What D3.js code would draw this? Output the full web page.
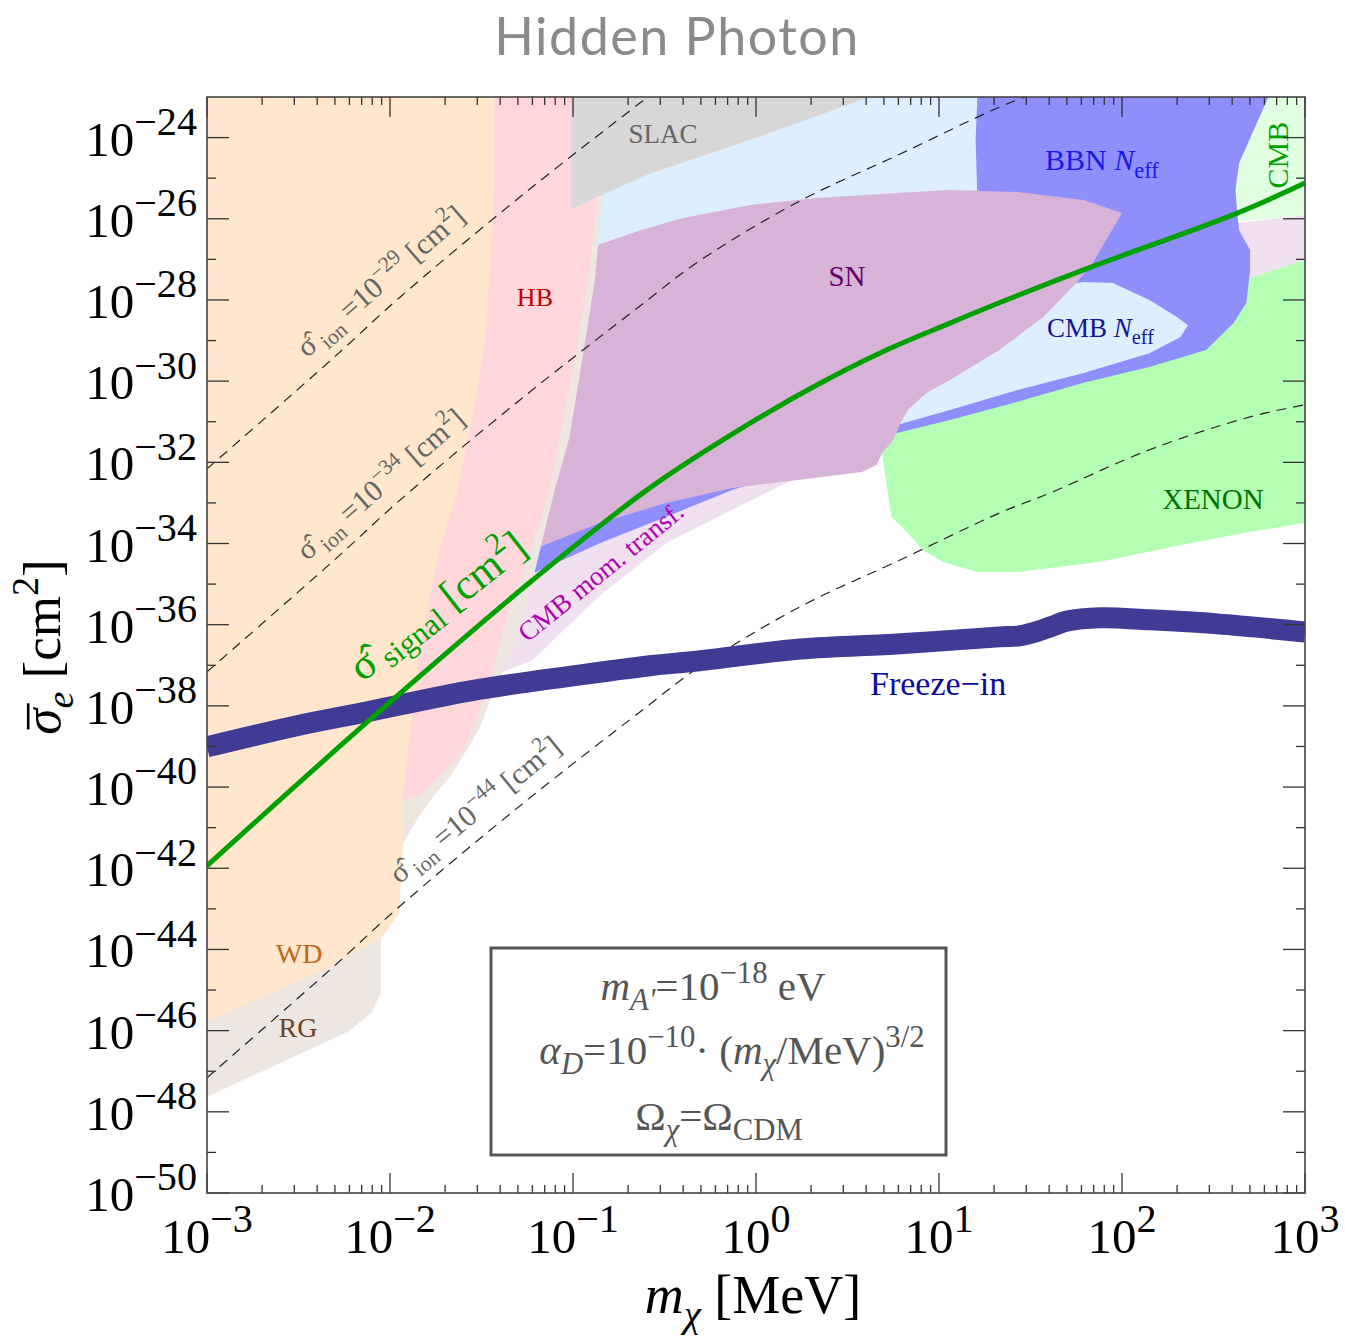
<!DOCTYPE html>
<html>
<head>
<meta charset="utf-8">
<script src="https://cdn.jsdelivr.net/npm/d3@7"></script>
<style>
  body { margin: 0; background: #fff; }
  svg { display: block; }
  text { font-family: "Liberation Serif", "DejaVu Serif", serif; }
</style>
</head>
<body>
<svg id="chart" width="1345" height="1340"></svg>
<script>
// ---------------------------------------------------------------
// Data: every boundary is a list of [log10(mχ / MeV), log10(σ̄e / cm²)]
// ---------------------------------------------------------------

// CMB N_eff (light blue) – broad background region
const cmbNeffBase = [[-0.86,-23],[1.5,-23],[1.5,-28.8],[0.9,-30.5],[-0.87,-27.0]];

// CMB N_eff – part visible inside the BBN band
const cmbNeffIsland = [[1.75,-27.58],[1.79,-27.56],[1.95,-27.58],[2.15,-28.00],[2.30,-28.42],
  [2.36,-28.62],[2.32,-28.91],[2.15,-29.31],[1.79,-29.80],[1.43,-30.22],[1.06,-30.71],
  [0.77,-31.08],[0.62,-31.25],[0.51,-30.96],[1.33,-28.74],[1.66,-27.75]];

// BBN N_eff (periwinkle)
const bbnNeff = [[1.21,-23],[2.80,-23],[2.72,-23.81],[2.64,-24.63],[2.62,-25.29],[2.63,-25.86],
  [2.64,-26.28],[2.70,-26.77],[2.70,-27.26],[2.68,-28.07],[2.61,-28.57],[2.46,-29.23],
  [2.15,-29.65],[1.79,-30.04],[1.43,-30.51],[1.06,-30.96],[0.77,-31.28],[0.58,-31.65],
  [0.24,-32.14],[-0.13,-32.68],[-0.49,-33.34],[-0.85,-33.99],[-1.21,-34.72],[-1.21,-34.16],
  [-1.07,-33.80],[-0.31,-30.46],[1.21,-25.54],[1.20,-24.06]];

// CMB (very light green, top right)
const cmbTop = [[2.55,-23],[3,-23],[3,-25.91],[2.55,-26.10]];

// CMB momentum transfer (lavender): high-mass patch and low-mass band
const cmbMomHigh = [[2.55,-26.10],[2.64,-26.10],[3,-25.91],[3,-27.01],[2.70,-27.46],[2.55,-27.50]];
const cmbMomLow = [[-1.22,-34.40],[-0.85,-33.59],[-0.13,-32.43],[0.24,-32.25],[0.20,-32.43],
  [-0.13,-33.17],[-0.49,-33.99],[-0.85,-35.27],[-1.22,-36.87],[-1.40,-37.19],[-1.56,-37.61],
  [-1.50,-35.39],[-1.29,-34.53]];

// XENON direct detection (light green)
const xenon = [[0.69,-31.87],[0.70,-32.11],[0.74,-33.34],[0.83,-33.74],[0.91,-34.16],
  [1.02,-34.45],[1.21,-34.70],[1.43,-34.70],[1.88,-34.45],[2.33,-34.03],[2.70,-33.71],
  [3,-33.49],[3,-27.01],[2.70,-27.46],[2.59,-28.0],[2.43,-29.1],[1.79,-29.97],
  [1.06,-30.83],[0.73,-31.33],[0.69,-31.57]];

// Supernova cooling (mauve)
const supernova = [[-0.87,-26.65],[-0.63,-26.28],[-0.40,-25.98],[-0.03,-25.66],[0.33,-25.49],
  [0.79,-25.36],[1.06,-25.29],[1.43,-25.34],[1.79,-25.54],[2.00,-25.86],[1.84,-27.09],
  [1.75,-27.58],[1.57,-28.42],[1.33,-29.23],[1.06,-29.97],[0.93,-30.29],[0.83,-30.71],
  [0.79,-31.03],[0.75,-31.45],[0.69,-31.77],[0.66,-32.06],[0.58,-32.24],[0.24,-32.43],
  [-0.13,-32.63],[-0.49,-33.00],[-0.85,-33.49],[-1.18,-34.08],[-1.07,-31.69],
  [-0.98,-30.22],[-0.92,-28.57]];

// Red giants (beige)
const redGiants = [[-3,-23],[-0.82,-23],[-0.84,-25.54],[-0.88,-27.51],[-0.95,-29.48],
  [-1.02,-31.40],[-1.10,-32.68],[-1.18,-34.16],[-1.26,-35.64],[-1.34,-36.75],[-1.45,-37.85],
  [-1.51,-38.54],[-1.58,-39.08],[-1.67,-39.73],[-1.77,-40.27],[-1.84,-40.71],[-1.95,-41.55],
  [-1.95,-43.10],[-2.05,-43.69],[-2.05,-45.07],[-2.10,-45.56],[-2.23,-46.03],[-3,-47.63]];

// White dwarfs (peach)
const whiteDwarfs = [[-3,-23],[-1.43,-23],[-1.43,-25.29],[-1.47,-28.57],[-1.52,-30.22],
  [-1.63,-32.68],[-1.73,-34.16],[-1.84,-36.62],[-1.93,-40.32],[-1.93,-41.55],[-1.95,-43.10],
  [-2.04,-43.69],[-2.31,-44.40],[-2.67,-45.12],[-3,-45.78]];

// Horizontal branch stars (pink)
const horizontalBranch = [[-1.43,-23],[-1.43,-25.29],[-1.47,-28.57],[-1.52,-30.22],
  [-1.63,-32.68],[-1.73,-34.16],[-1.84,-36.62],[-1.93,-40.32],[-1.84,-40.19],[-1.70,-39.58],
  [-1.60,-39.08],[-1.49,-37.85],[-1.33,-35.39],[-1.23,-34.16],[-1.13,-32.68],[-0.99,-29.48],
  [-0.91,-27.26],[-0.87,-25.54],[-0.85,-23]];

// SLAC beam dump (grey)
const slac = [[-1.01,-23],[-1.01,-25.76],[-0.84,-25.41],[-0.60,-24.92],[0.01,-23.99],
  [0.58,-23.07],[0.62,-23]];

// Freeze-in relic line
const freezeIn = [[-3,-39.01],[-2.49,-38.47],[-2.13,-38.15],[-1.56,-37.63],[-1.0,-37.26],
  [-0.58,-37.01],[-0.31,-36.89],[0.24,-36.60],[0.79,-36.47],[1.33,-36.30],[1.43,-36.28],
  [1.51,-36.20],[1.61,-36.05],[1.70,-35.91],[1.88,-35.83],[2.15,-35.88],[2.52,-35.98],[3,-36.18]];

// σ̂ signal curve
const signal = [[-3,-41.94],[-2.13,-38.42],[-1.22,-34.90],[-0.58,-32.63],[-0.03,-31.03],
  [0.33,-30.10],[0.69,-29.28],[1.06,-28.57],[1.33,-28.07],[1.79,-27.26],[2.63,-25.86],[3,-25.12]];

// Contours of fixed σ̂_ion: log10(σ̄e/σ̂_ion) against mass, and the three contour levels
const ionShape = [[-3,-3.16],[-2.31,-0.43],[-1.95,1.05],[-1.27,3.61],[-0.62,5.90],
  [-0.31,6.96],[0.24,8.44],[0.79,9.60],[1.33,10.75],[1.61,11.25],[2.15,12.31],[2.70,13.12],[2.99,13.41]];
const ionLevels = [-29, -34, -44];
const ionLabelStart = [-2.45, -2.45, -1.95];

// Axis tick exponents
const xTickExps = [-3, -2, -1, 0, 1, 2, 3];
const yLabelExps = [-24, -26, -28, -30, -32, -34, -36, -38, -40, -42, -44, -46, -48, -50];
const yMinorExps = [-25, -27, -29, -31, -33, -35, -37, -39, -41, -43, -45, -47, -49];

// ---------------------------------------------------------------
const svg = d3.select("#chart");
const plot = { left: 207, right: 1305, top: 97, bottom: 1193 };

const x = d3.scaleLog().domain([1e-3, 1e3]).range([plot.left, plot.right]);
const y = d3.scaleLog().domain([1e-50, 1e-23]).range([plot.bottom, plot.top]);
const px = p => x(Math.pow(10, p[0]));
const py = p => y(Math.pow(10, p[1]));

svg.append("defs").append("clipPath").attr("id", "plotClip")
  .append("rect")
  .attr("x", plot.left).attr("y", plot.top)
  .attr("width", plot.right - plot.left).attr("height", plot.bottom - plot.top);

const area = svg.append("g").attr("clip-path", "url(#plotClip)");
const poly = d3.line().x(px).y(py).curve(d3.curveLinearClosed);
const smooth = d3.line().x(px).y(py).curve(d3.curveCatmullRom.alpha(0.5));

const regions = [
  [cmbNeffBase, "#DDEEFF"],
  [cmbTop, "#E0FFE0"],
  [cmbMomHigh, "#F0E0F0"],
  [xenon, "#B3FFB3"],
  [cmbMomLow, "#F0E0F0"],
  [bbnNeff, "#8F8FFC"],
  [cmbNeffIsland, "#DDEEFF"],
  [supernova, "#D8B3D8"],
  [redGiants, "#EEE6E0"],
  [whiteDwarfs, "#FFE6CC"],
  [horizontalBranch, "#FFD7DB"],
  [slac, "#D7D7D7"]
];
area.selectAll("path.region").data(regions).join("path")
  .attr("class", "region")
  .attr("d", d => poly(d[0]))
  .attr("fill", d => d[1])
  .attr("stroke", "none");

// dashed σ̂_ion contours
const ionCurves = ionLevels.map(lv => ionShape.map(([lm, r]) => [lm, r + lv]));
area.selectAll("path.ion").data(ionCurves).join("path")
  .attr("class", "ion")
  .attr("d", smooth)
  .attr("fill", "none")
  .attr("stroke", "#222")
  .attr("stroke-width", 1.2)
  .attr("stroke-dasharray", "10,7");

// freeze-in band
area.append("path")
  .attr("d", smooth(freezeIn))
  .attr("fill", "none")
  .attr("stroke", "#403C96")
  .attr("stroke-width", 21);

// signal curve
area.append("path")
  .attr("d", smooth(signal))
  .attr("fill", "none")
  .attr("stroke", "#00A000")
  .attr("stroke-width", 5);

// ---------------------------------------------------------------
// rich text helper: parts with size scale (s), vertical shift in em (sh), italic (it)
function rich(parent, parts, size, opts = {}) {
  const t = parent.append("text")
    .attr("font-size", size)
    .attr("fill", opts.fill || "#000")
    .attr("text-anchor", opts.anchor || "start");
  let cur = 0;
  parts.forEach(p => {
    const sh = p.sh || 0;
    const ts = t.append("tspan")
      .attr("font-size", size * (p.s || 1))
      .attr("dy", ((sh - cur) * size).toFixed(2))
      .text(p.t);
    if (p.it) ts.attr("font-style", "italic");
    cur = sh;
  });
  return t;
}
const SUP = -0.42, SUB = 0.25;

// labels for the σ̂_ion contours
const ionInterp = d3.scaleLinear().domain(ionShape.map(d => d[0])).range(ionShape.map(d => d[1]));
ionLevels.forEach((lv, i) => {
  const lm0 = ionLabelStart[i];
  const p0 = [lm0, ionInterp(lm0) + lv];
  const p1 = [lm0 + 0.9, ionInterp(lm0 + 0.9) + lv];
  const ang = Math.atan2(py(p1) - py(p0), px(p1) - px(p0)) * 180 / Math.PI;
  const g = svg.append("g")
    .attr("transform", `translate(${px(p0)},${py(p0)}) rotate(${ang}) translate(14,-17)`);
  rich(g, [
    { t: "σ̂" }, { t: " ion", s: 0.72, sh: SUB }, { t: " =10" },
    { t: "−" + Math.abs(lv), s: 0.72, sh: SUP }, { t: "  [cm" },
    { t: "2", s: 0.72, sh: SUP }, { t: "]" }
  ], 30, { fill: "#666" });
});

// signal label
{
  const g = svg.append("g")
    .attr("transform", `translate(${px([-2.15, 0])},${py([0, -37.43])}) rotate(-38)`);
  rich(g, [
    { t: "σ̂" }, { t: " signal", s: 0.72, sh: 0.15 }, { t: " [cm" },
    { t: "2", s: 0.72, sh: SUP }, { t: "]" }
  ], 43, { fill: "#00A000" });
}

// CMB momentum transfer label
{
  const g = svg.append("g")
    .attr("transform", `translate(${px([-1.25, 0])},${py([0, -36.45])}) rotate(-39)`);
  rich(g, [{ t: "CMB mom. transf." }], 27, { fill: "#B000B0" });
}

// region names
const regionLabels = [
  { parts: [{ t: "SLAC" }], lm: -0.508, ls: -24.13, size: 27, fill: "#666666", anchor: "middle" },
  { parts: [{ t: "HB" }], lm: -1.208, ls: -28.15, size: 26, fill: "#C00000", anchor: "middle" },
  { parts: [{ t: "SN" }], lm: 0.497, ls: -27.66, size: 29, fill: "#660066", anchor: "middle" },
  { parts: [{ t: "BBN " }, { t: "N", it: true }, { t: "eff", s: 0.75, sh: SUB }], lm: 1.579, ls: -24.80, size: 30, fill: "#1A1AE6", anchor: "start" },
  { parts: [{ t: "CMB " }, { t: "N", it: true }, { t: "eff", s: 0.75, sh: SUB }], lm: 1.590, ls: -28.91, size: 27, fill: "#141496", anchor: "start" },
  { parts: [{ t: "XENON" }], lm: 2.497, ls: -33.15, size: 29, fill: "#007000", anchor: "middle" },
  { parts: [{ t: "Freeze−in" }], lm: 0.995, ls: -37.73, size: 34, fill: "#0A0AA0", anchor: "middle" },
  { parts: [{ t: "WD" }], lm: -2.497, ls: -44.33, size: 28, fill: "#C0651A", anchor: "middle" },
  { parts: [{ t: "RG" }], lm: -2.503, ls: -46.15, size: 28, fill: "#6B4426", anchor: "middle" }
];
regionLabels.forEach(L => {
  const g = svg.append("g").attr("transform", `translate(${px([L.lm, 0])},${py([0, L.ls])})`);
  rich(g, L.parts, L.size, { fill: L.fill, anchor: L.anchor });
});
{
  const g = svg.append("g")
    .attr("transform", `translate(${px([2.907, 0])},${py([0, -24.43])}) rotate(-90)`);
  rich(g, [{ t: "CMB" }], 30, { fill: "#00A000", anchor: "middle" });
}

// ---------------------------------------------------------------
// frame and ticks
const axisG = svg.append("g").attr("stroke", "#333").attr("stroke-width", 1.3);
xTickExps.forEach(e => {
  const xv = x(Math.pow(10, e));
  axisG.append("line").attr("x1", xv).attr("x2", xv).attr("y1", plot.bottom).attr("y2", plot.bottom - 20);
  axisG.append("line").attr("x1", xv).attr("x2", xv).attr("y1", plot.top).attr("y2", plot.top + 20);
  if (e < 3) {
    for (let k = 2; k <= 9; k++) {
      const xm = x(k * Math.pow(10, e));
      axisG.append("line").attr("x1", xm).attr("x2", xm).attr("y1", plot.bottom).attr("y2", plot.bottom - 8);
      axisG.append("line").attr("x1", xm).attr("x2", xm).attr("y1", plot.top).attr("y2", plot.top + 8);
    }
  }
});
yLabelExps.forEach(e => {
  const yv = y(Math.pow(10, e));
  axisG.append("line").attr("x1", plot.left).attr("x2", plot.left + 22).attr("y1", yv).attr("y2", yv);
  axisG.append("line").attr("x1", plot.right).attr("x2", plot.right - 22).attr("y1", yv).attr("y2", yv);
});
yMinorExps.forEach(e => {
  const yv = y(Math.pow(10, e));
  axisG.append("line").attr("x1", plot.left).attr("x2", plot.left + 9).attr("y1", yv).attr("y2", yv);
  axisG.append("line").attr("x1", plot.right).attr("x2", plot.right - 9).attr("y1", yv).attr("y2", yv);
});
svg.append("rect")
  .attr("x", plot.left).attr("y", plot.top)
  .attr("width", plot.right - plot.left).attr("height", plot.bottom - plot.top)
  .attr("fill", "none").attr("stroke", "#444").attr("stroke-width", 1.6);

// tick labels
xTickExps.forEach(e => {
  const g = svg.append("g").attr("transform", `translate(${x(Math.pow(10, e))},1253)`);
  rich(g, [{ t: "10" }, { t: (e < 0 ? "−" : "") + Math.abs(e), s: 0.82, sh: SUP }], 49, { anchor: "middle" });
});
yLabelExps.forEach(e => {
  const g = svg.append("g").attr("transform", `translate(197,${y(Math.pow(10, e)) + 18})`);
  rich(g, [{ t: "10" }, { t: "−" + Math.abs(e), s: 0.82, sh: SUP }], 49, { anchor: "end" });
});

// axis titles
{
  const g = svg.append("g").attr("transform", `translate(753,1313)`);
  rich(g, [{ t: "m", it: true }, { t: "χ", it: true, s: 0.72, sh: SUB }, { t: " [MeV]" }], 54, { anchor: "middle" });
}
{
  const size = 53;
  const g = svg.append("g").attr("transform", `translate(60,647) rotate(-90)`);
  const t = rich(g, [{ t: "σ", it: true }, { t: "e", it: true, s: 0.72, sh: SUB }, { t: " [cm" },
           { t: "2", s: 0.72, sh: SUP }, { t: "]" }], size, { anchor: "middle" });
  // bar over σ
  const n = t.node();
  const s0 = n.getStartPositionOfChar(0), s1 = n.getEndPositionOfChar(0);
  g.append("line")
    .attr("x1", s0.x + 0.10 * size).attr("x2", s1.x + 0.10 * size)
    .attr("y1", -0.60 * size).attr("y2", -0.60 * size)
    .attr("stroke", "#000").attr("stroke-width", 2.6);
}

// title
svg.append("text")
  .attr("x", 677).attr("y", 55)
  .attr("text-anchor", "middle")
  .attr("font-size", 52)
  .attr("fill", "#8a8a8a")
  .style("font-family", "Lato, 'Open Sans', sans-serif")
  .style("letter-spacing", "1.5px")
  .text("Hidden Photon");

// parameter box
const box = svg.append("g");
box.append("rect")
  .attr("x", 491).attr("y", 948).attr("width", 455).attr("height", 207)
  .attr("fill", "#fff").attr("stroke", "#555").attr("stroke-width", 3);
rich(box.append("g").attr("transform", "translate(713,1000)"),
  [{ t: "m", it: true }, { t: "A'", it: true, s: 0.75, sh: SUB }, { t: "=10" },
   { t: "−18", s: 0.75, sh: SUP }, { t: " eV" }], 41, { fill: "#555", anchor: "middle" });
rich(box.append("g").attr("transform", "translate(732,1064)"),
  [{ t: "α", it: true }, { t: "D", it: true, s: 0.75, sh: SUB }, { t: "=10" },
   { t: "−10", s: 0.75, sh: SUP }, { t: "· (" }, { t: "m", it: true },
   { t: "χ", it: true, s: 0.75, sh: SUB }, { t: "/MeV)" }, { t: "3/2", s: 0.75, sh: SUP }], 41, { fill: "#555", anchor: "middle" });
rich(box.append("g").attr("transform", "translate(719,1130)"),
  [{ t: "Ω" }, { t: "χ", it: true, s: 0.75, sh: SUB }, { t: "=Ω" },
   { t: "CDM", s: 0.75, sh: SUB }], 41, { fill: "#555", anchor: "middle" });
</script>
</body>
</html>
